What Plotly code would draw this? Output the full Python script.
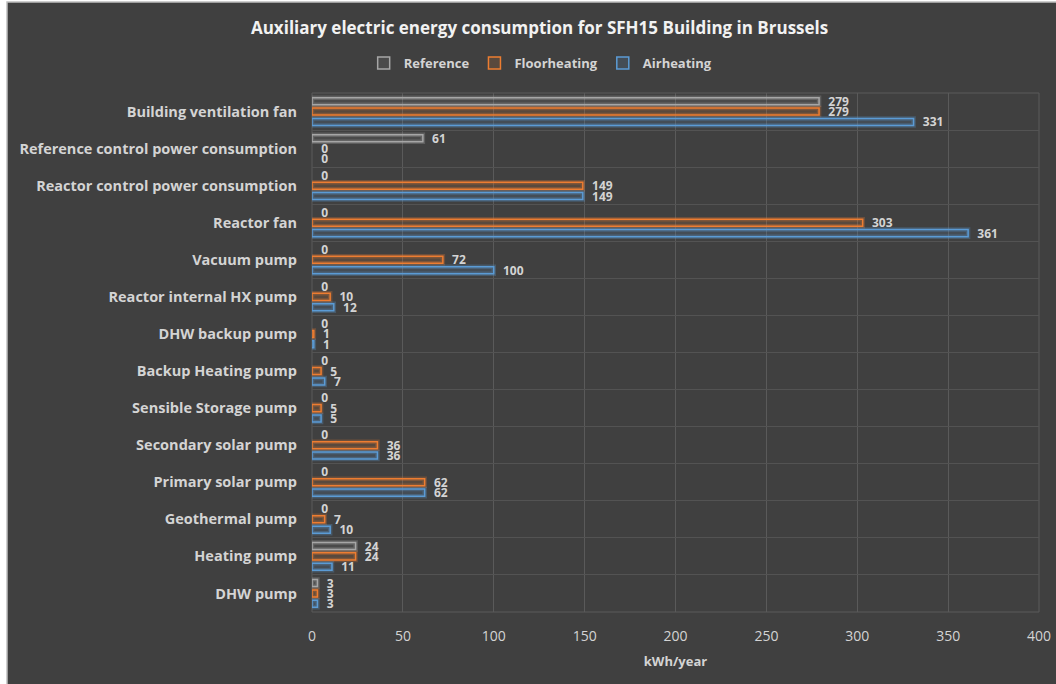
import plotly.graph_objects as go

categories = [
    "Building ventilation fan",
    "Reference control power consumption",
    "Reactor control power consumption",
    "Reactor fan",
    "Vacuum pump",
    "Reactor internal HX pump",
    "DHW backup pump",
    "Backup Heating pump",
    "Sensible Storage pump",
    "Secondary solar pump",
    "Primary solar pump",
    "Geothermal pump",
    "Heating pump",
    "DHW pump",
]
reference = [279, 61, 0, 0, 0, 0, 0, 0, 0, 0, 0, 0, 24, 3]
floorheating = [279, 0, 149, 303, 72, 10, 1, 5, 5, 36, 62, 7, 24, 3]
airheating = [331, 0, 149, 361, 100, 12, 1, 7, 5, 36, 62, 10, 11, 3]
x_ticks = [0, 50, 100, 150, 200, 250, 300, 350, 400]

W, H = 1056, 684
M_L, M_R, M_T, M_B = 312, 17, 93, 72
BG = "#404040"
TXT = "#d4d4d4"
FONT = "Open Sans"

series = [
    ("Reference", reference, "#a6a6a6", "rgba(166,166,166,0.10)", "rgba(200,200,200,0.22)"),
    ("Floorheating", floorheating, "#ed7d31", "rgba(237,125,49,0.15)", "rgba(237,125,49,0.26)"),
    ("Airheating", airheating, "#5b9bd5", "rgba(91,155,213,0.15)", "rgba(91,155,213,0.28)"),
]

fig = go.Figure()

# soft glow behind each bar outline (no outline on empty bars)
for name, vals, line_c, fill_c, glow_c in series:
    fig.add_trace(go.Bar(
        y=categories, x=vals, orientation="h", offsetgroup=name,
        marker=dict(color="rgba(0,0,0,0)",
                    line=dict(color=glow_c, width=[4.5 if v else 0 for v in vals])),
        showlegend=False, hoverinfo="skip",
    ))

for name, vals, line_c, fill_c, glow_c in series:
    fig.add_trace(go.Bar(
        y=categories, x=vals, orientation="h", name=name, offsetgroup=name,
        marker=dict(color=fill_c,
                    line=dict(color=line_c, width=[1.5 if v else 0 for v in vals])),
        text=["\u00a0\u00a0" + str(v) for v in vals], textposition="outside",
        textfont=dict(family=FONT, size=12, color=TXT, weight="bold"),
        constraintext="none", cliponaxis=False,
    ))

# chart frame: dark panel with a light edge
pw = W - M_L - M_R
ph = H - M_T - M_B
fig.add_shape(
    type="rect", xref="paper", yref="paper", layer="below",
    x0=(7 - M_L) / pw, x1=(W + 10 - M_L) / pw,
    y0=-(M_B + 10) / ph, y1=1 + (M_T - 2) / ph,
    fillcolor=BG, line=dict(color="#bfbfbf", width=1.5),
)

fig.update_layout(
    width=W, height=H,
    margin=dict(l=M_L, r=M_R, t=M_T, b=M_B, autoexpand=False),
    paper_bgcolor="white",
    plot_bgcolor="rgba(0,0,0,0)",
    barmode="group",
    bargap=0.16,
    bargroupgap=0.32,
    title=dict(
        text="Auxiliary electric energy consumption for SFH15 Building in Brussels",
        x=0.511, xanchor="center", xref="container",
        y=1 - 28 / H, yanchor="middle", yref="container",
        font=dict(family=FONT, size=17, color="#f2f2f2", weight="bold"),
    ),
    legend=dict(
        orientation="h", x=0.512, xanchor="center", xref="container",
        y=1 - 63 / H, yanchor="middle", yref="container",
        font=dict(family=FONT, size=13, color=TXT, weight="bold"),
        traceorder="normal", bgcolor="rgba(0,0,0,0)",
        itemwidth=30,
    ),
    xaxis=dict(
        range=[0, 400], tickvals=x_ticks, showgrid=True, automargin=False,
        gridcolor="#5a5a5a", gridwidth=1, zeroline=False,
        showline=False, mirror=False,
        tickfont=dict(family=FONT, size=14, color=TXT),
        ticks="", ticklabelstandoff=14,
        title=dict(text="kWh/year", standoff=12,
                   font=dict(family=FONT, size=13, color=TXT, weight="bold")),
    ),
    yaxis=dict(
        type="category", autorange="reversed", automargin=False,
        showgrid=True, gridcolor="#535353", tickson="boundaries",
        ticks="", ticklen=0,
        tickfont=dict(family=FONT, size=14.5, color=TXT, weight="bold"),
        ticklabelstandoff=14,
        showline=False, zeroline=False,
    ),
)

# outline of the plot area
fig.add_shape(type="rect", xref="paper", yref="paper", x0=0, x1=1, y0=0, y1=1,
              line=dict(color="#5a5a5a", width=1), layer="below")

fig.write_html("out.html")
